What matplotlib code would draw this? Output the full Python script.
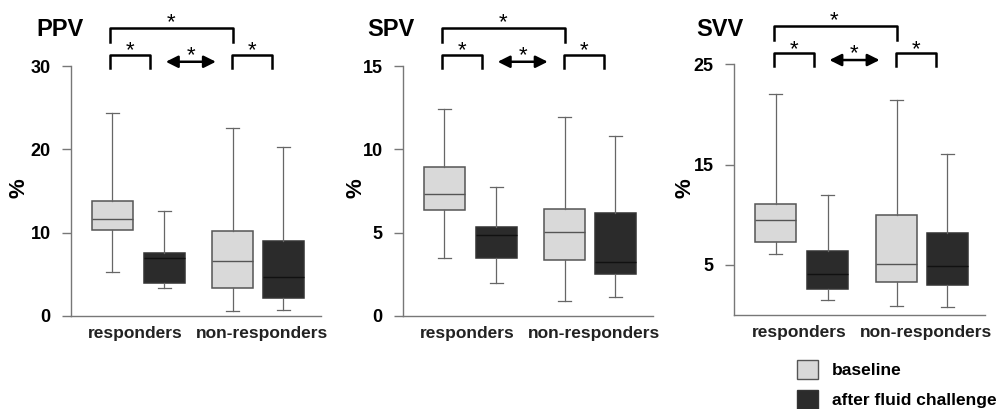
import matplotlib
matplotlib.use('Agg')
import matplotlib.pyplot as plt
from matplotlib.patches import Patch

plt.rcParams['font.family'] = ['Liberation Sans', 'DejaVu Sans']

panels = ['PPV', 'SPV', 'SVV']
groups = ['responders', 'non-responders']
series = ['baseline', 'after fluid challenge']

# box order: responders baseline, responders after, non-responders baseline, non-responders after
ppv_whislo = [5.3, 3.4, 0.6, 0.7]
ppv_q1 = [10.3, 3.9, 3.4, 2.2]
ppv_med = [11.7, 7.0, 6.6, 4.7]
ppv_q3 = [13.8, 7.6, 10.2, 9.0]
ppv_whishi = [24.4, 12.6, 22.6, 20.3]

spv_whislo = [3.5, 1.96, 0.88, 1.16]
spv_q1 = [6.34, 3.5, 3.34, 2.52]
spv_med = [7.3, 4.84, 5.02, 3.22]
spv_q3 = [8.92, 5.34, 6.4, 6.2]
spv_whishi = [12.4, 7.76, 11.96, 10.8]

svv_whislo = [6.05, 1.46, 0.93, 0.8]
svv_q1 = [7.25, 2.62, 3.26, 3.02]
svv_med = [9.5, 4.06, 5.05, 4.85]
svv_q3 = [11.07, 6.41, 9.94, 8.14]
svv_whishi = [22.07, 11.93, 21.4, 16.1]

ylims = [(0, 30), (0, 15), (0, 25)]
yticks = [[0, 10, 20, 30], [0, 5, 10, 15], [5, 15, 25]]

data = [
    (ppv_whislo, ppv_q1, ppv_med, ppv_q3, ppv_whishi),
    (spv_whislo, spv_q1, spv_med, spv_q3, spv_whishi),
    (svv_whislo, svv_q1, svv_med, svv_q3, svv_whishi),
]

light = '#d9d9d9'
dark = '#2b2b2b'
grey = '#666666'

fig = plt.figure(figsize=(9.97, 4.09), dpi=100)

rects = [
    [0.0709, 0.2274, 0.2511, 0.6112],
    [0.4039, 0.2274, 0.2508, 0.6112],
    [0.7362, 0.2298, 0.2518, 0.6130],
]
title_x = [0.036, 0.368, 0.698]
ylab_x = [0.019, 0.357, 0.687]

pos = [0.83, 1.87, 3.24, 4.25]
label_x = [1.29, 3.83]

for i, name in enumerate(panels):
    ax = fig.add_axes(rects[i])
    lo, q1, med, q3, hi = data[i]
    stats = []
    for k in range(4):
        stats.append(dict(whislo=lo[k], q1=q1[k], med=med[k], q3=q3[k],
                          whishi=hi[k], fliers=[]))
    bp = ax.bxp(stats, positions=pos, widths=0.82, patch_artist=True,
                showfliers=False, capwidths=0.26,
                boxprops=dict(edgecolor='#555555', linewidth=1.1),
                whiskerprops=dict(color=grey, linewidth=0.9),
                capprops=dict(color=grey, linewidth=0.9),
                medianprops=dict(color='#555555', linewidth=1.0))
    for k, box in enumerate(bp['boxes']):
        box.set_facecolor(light if k % 2 == 0 else dark)
        if k % 2 == 1:
            box.set_edgecolor('#333333')
            bp['medians'][k].set_color('#111111')

    ax.set_xlim(0, 5)
    ax.set_ylim(*ylims[i])
    ax.set_yticks(yticks[i])
    ax.set_xticks([])
    for s in ['top', 'right']:
        ax.spines[s].set_visible(False)
    for s in ['left', 'bottom']:
        ax.spines[s].set_color('#777777')
        ax.spines[s].set_linewidth(1.0)
    ax.tick_params(axis='y', length=6.5, width=1, color='#777777', pad=8,
                   labelsize=13)
    for t in ax.get_yticklabels():
        t.set_fontweight('bold')

    for gx, g in zip(label_x, groups):
        ax.text(gx, -0.07, g, transform=ax.get_xaxis_transform(),
                ha='center', va='center', fontsize=12.5, fontweight='bold',
                color='#222222')

    fig.text(title_x[i], 0.927, name, fontsize=17, fontweight='bold',
             ha='left', va='center')
    fig.text(ylab_x[i], 0.54, '%', fontsize=16, fontweight='bold',
             rotation=90, ha='center', va='center')

    # significance brackets
    tr = ax.get_xaxis_transform()
    ax.plot([0.79, 0.79, 3.24, 3.24], [1.097, 1.151, 1.151, 1.097],
            transform=tr, color='black', lw=1.8, clip_on=False)
    ax.plot([0.79, 0.79, 1.59, 1.59], [0.992, 1.044, 1.044, 0.992],
            transform=tr, color='black', lw=1.8, clip_on=False)
    ax.plot([3.22, 3.22, 4.02, 4.02], [0.992, 1.044, 1.044, 0.992],
            transform=tr, color='black', lw=1.8, clip_on=False)
    ax.annotate('', xy=(2.9, 1.017), xytext=(1.9, 1.017), xycoords=tr,
                textcoords=tr,
                arrowprops=dict(arrowstyle='<|-|>', color='black', lw=1.8,
                                mutation_scale=18, shrinkA=0, shrinkB=0))
    for sx, sy in [(2.0, 1.175), (1.19, 1.06), (2.4, 1.042), (3.62, 1.06)]:
        ax.text(sx, sy, '*', transform=tr, ha='center', va='center',
                fontsize=16, color='black')

handles = [Patch(facecolor=light, edgecolor='#555555'),
           Patch(facecolor=dark, edgecolor='#333333')]
fig.legend(handles, series, loc='upper left', bbox_to_anchor=(0.799, 0.12),
           frameon=False, handlelength=1.25, handleheight=1.3,
           handletextpad=0.8, labelspacing=0.62, borderpad=0,
           borderaxespad=0, prop=dict(size=12.5, weight='bold'))

fig.savefig('out.png', dpi=100)
